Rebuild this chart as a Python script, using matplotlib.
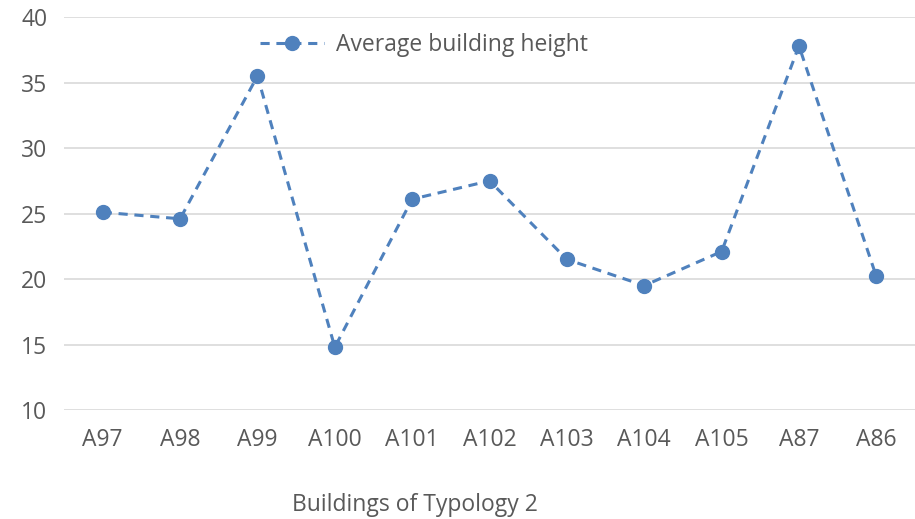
import matplotlib
matplotlib.use("Agg")
import matplotlib.pyplot as plt

# Average building height for each building of typology 2
buildings = ["A97", "A98", "A99", "A100", "A101", "A102", "A103", "A104", "A105", "A87", "A86"]
avg_height = [25.1, 24.6, 35.5, 14.8, 26.1, 27.5, 21.5, 19.5, 22.1, 37.8, 20.2]
y_ticks = [10, 15, 20, 25, 30, 35, 40]

plt.rcParams["font.family"] = ["Open Sans", "DejaVu Sans"]
text_color = "#595959"
line_color = "#4F81BD"
fs = 16.5

fig = plt.figure(figsize=(9.15, 5.19), dpi=100)
ax = fig.add_axes([0.070, 0.210, 0.930, 0.757])

x = range(len(buildings))
ax.plot(x, avg_height, linestyle=(0, (3, 2.2)), color=line_color, linewidth=2.2,
        marker="o", markersize=10, label="Average building height")

ax.set_xlim(-0.5, len(buildings) - 0.5)
ax.set_ylim(10, 40)
ax.set_yticks(y_ticks)
ax.set_xticks(list(x))
ax.set_xticklabels(buildings)

for s in ax.spines.values():
    s.set_visible(False)
ax.grid(axis="y", color="#D9D9D9", linewidth=1.2)
ax.set_axisbelow(True)
ax.tick_params(axis="both", length=0, labelsize=fs, colors=text_color)
ax.tick_params(axis="x", pad=13)
ax.tick_params(axis="y", pad=12)

ax.set_xlabel("Buildings of Typology 2", fontsize=fs, color=text_color)
ax.xaxis.set_label_coords(0.412, -0.21)

leg = ax.legend(loc="center", bbox_to_anchor=(0.423, 0.93), frameon=False,
                fontsize=fs, handlelength=2.8, handletextpad=0.55)
for t in leg.get_texts():
    t.set_color(text_color)

fig.savefig("out.png", dpi=100, facecolor="white")
